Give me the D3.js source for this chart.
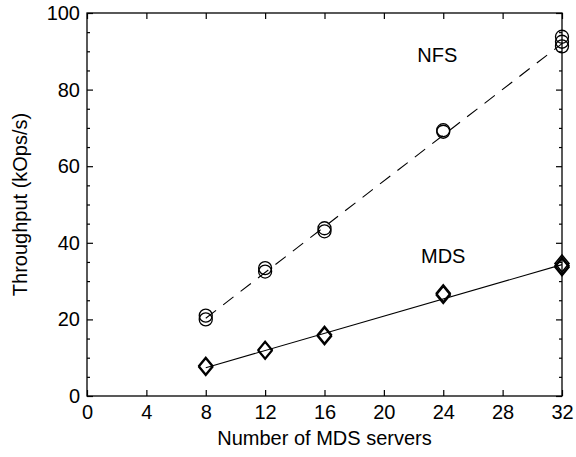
<!DOCTYPE html>
<html><head><meta charset="utf-8">
<script src="https://cdn.jsdelivr.net/npm/d3@7"></script>
<style>body{margin:0;background:#fff}text{font-family:"Liberation Sans",Arial,sans-serif}</style>
</head><body>
<svg id="c" width="576" height="457"></svg>
<script>
const xTicks = [0,4,8,12,16,20,24,28,32];
const yTicks = [0,20,40,60,80,100];
const nfsX = [8,8,12,12,16,16,24,24,32,32,32];
const nfsY = [21.0,20.0,33.4,32.5,43.8,43.0,69.4,69.0,93.8,92.5,91.3];
const mdsX = [8,8,12,12,16,16,24,24,32,32,32];
const mdsY = [7.9,7.6,12.1,11.8,16.0,15.6,26.8,26.4,34.6,34.0,33.6];
const nfsFitX = [8,32];
const nfsFitY = [20.3,92.0];
const mdsFitX = [8,32];
const mdsFitY = [7.4,34.3];

const FS = 20;
const svg = d3.select("#c");
const L=87, R=562, T=13, B=396;
const x = d3.scaleLinear().domain([0,32]).range([L,R]);
const y = d3.scaleLinear().domain([0,100]).range([B,T]);

// fit lines
const line = d3.line().x(d=>x(d[0])).y(d=>y(d[1]));
svg.append("path").datum(nfsFitX.map((v,i)=>[v,nfsFitY[i]]))
  .attr("d",line).attr("fill","none").attr("stroke","#000").attr("stroke-width",1.1).attr("stroke-dasharray","13,9");
svg.append("path").datum(mdsFitX.map((v,i)=>[v,mdsFitY[i]]))
  .attr("d",line).attr("fill","none").attr("stroke","#000").attr("stroke-width",1.1);

// markers
svg.append("g").selectAll("circle").data(nfsX.map((v,i)=>[v,nfsY[i]])).join("circle")
  .attr("cx",d=>x(d[0])).attr("cy",d=>y(d[1])).attr("r",6.5)
  .attr("fill","none").attr("stroke","#000").attr("stroke-width",1.3);
svg.append("g").selectAll("path").data(mdsX.map((v,i)=>[v,mdsY[i]])).join("path")
  .attr("d",d=>{const cx=x(d[0]),cy=y(d[1]);return `M${cx},${cy-8.5}L${cx+7},${cy}L${cx},${cy+8.5}L${cx-7},${cy}Z`;})
  .attr("fill","none").attr("stroke","#000").attr("stroke-width",1.6);

// axes frame
const ax = svg.append("g");
ax.append("rect").attr("x",L).attr("y",T).attr("width",R-L).attr("height",B-T)
  .attr("fill","none").attr("stroke","#000").attr("stroke-width",1.3);

const bottom = d3.axisBottom(x).tickValues(xTicks).tickSize(-6).tickPadding(9);
ax.append("g").attr("transform",`translate(0,${B})`).call(bottom)
  .call(g=>{g.select(".domain").remove();g.selectAll("text").attr("font-size",FS).attr("font-family","Liberation Sans, Arial, sans-serif").attr("dy","0.71em");});
ax.append("g").attr("transform",`translate(0,${T})`).call(d3.axisTop(x).tickValues(xTicks).tickSize(-6).tickFormat(""))
  .call(g=>g.select(".domain").remove());

const minorY = d3.range(0,101,5).filter(v=>v%20!==0);
ax.append("g").attr("transform",`translate(${L},0)`).call(d3.axisLeft(y).tickValues(yTicks).tickSize(-6).tickPadding(7))
  .call(g=>{g.select(".domain").remove();g.selectAll("text").attr("font-size",FS).attr("font-family","Liberation Sans, Arial, sans-serif");});
ax.append("g").attr("transform",`translate(${L},0)`).call(d3.axisLeft(y).tickValues(minorY).tickSize(-3).tickFormat(""))
  .call(g=>g.select(".domain").remove());
ax.append("g").attr("transform",`translate(${R},0)`).call(d3.axisRight(y).tickValues(yTicks).tickSize(-6).tickFormat(""))
  .call(g=>g.select(".domain").remove());
ax.append("g").attr("transform",`translate(${R},0)`).call(d3.axisRight(y).tickValues(minorY).tickSize(-3).tickFormat(""))
  .call(g=>g.select(".domain").remove());
ax.selectAll(".tick line").attr("stroke-width",1.2);

// labels
svg.append("text").attr("x",x(23.6)).attr("y",y(88.5)).attr("font-size",FS).attr("text-anchor","middle").attr("dominant-baseline","middle").text("NFS");
svg.append("text").attr("x",x(24.0)).attr("y",y(36.0)).attr("font-size",FS).attr("text-anchor","middle").attr("dominant-baseline","middle").text("MDS");
svg.append("text").attr("x",(L+R)/2).attr("y",445).attr("font-size",FS).attr("text-anchor","middle").text("Number of MDS servers");
svg.append("text").attr("transform",`translate(27,${(T+B)/2}) rotate(-90)`).attr("font-size",FS).attr("text-anchor","middle").text("Throughput (kOps/s)");
</script>
</body></html>
